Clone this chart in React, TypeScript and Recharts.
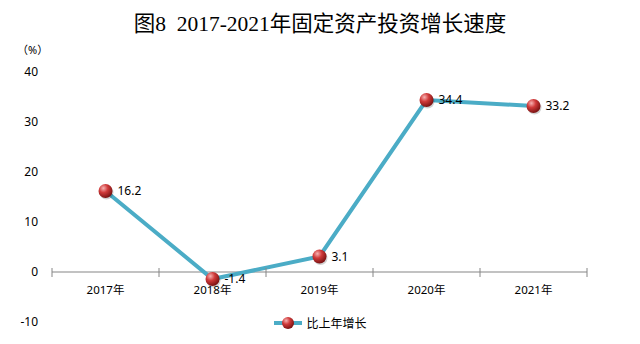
import React from "react";
import {
  LabelList,
  Legend,
  Line,
  LineChart,
  ReferenceLine,
  XAxis,
  YAxis,
} from "recharts";

const years = ["2017年", "2018年", "2019年", "2020年", "2021年"];
const growth = [16.2, -1.4, 3.1, 34.4, 33.2];
const yTicks = [-10, 0, 10, 20, 30, 40];
const seriesName = "比上年增长";
const title = "图8  2017-2021年固定资产投资增长速度";

const data = years.map((y, i) => ({ year: y, value: growth[i] }));

const LINE = "#4bacc6";
const AXIS = "#868686";
const FONT = "'Noto Sans', 'Noto Sans CJK SC', sans-serif";

function Ball(props: any) {
  const { cx, cy } = props;
  if (cx == null || cy == null) return null;
  const r = 7;
  return (
    <g>
      <circle cx={cx + 1} cy={cy + 1.5} r={r} fill="rgba(0,0,0,0.18)" />
      <circle cx={cx} cy={cy} r={r} fill="url(#ball)" />
    </g>
  );
}

function YearTick(props: any) {
  const { x, y, payload, index } = props;
  const band = 107;
  // axis sits on the zero line, not at the plot bottom
  const zeroY = y - 50;
  return (
    <g>
      <line x1={x - band / 2} x2={x - band / 2} y1={zeroY - 4} y2={zeroY + 5} stroke={AXIS} />
      {index === years.length - 1 && (
        <line x1={x + band / 2} x2={x + band / 2} y1={zeroY - 4} y2={zeroY + 5} stroke={AXIS} />
      )}
      <text x={x} y={zeroY + 22} textAnchor="middle" fontSize={11.5} fill="#000" fontFamily={FONT}>
        {payload.value}
      </text>
    </g>
  );
}

function LegendBox() {
  return (
    <div style={{ display: "flex", alignItems: "center", justifyContent: "center", fontFamily: FONT, fontSize: 12 }}>
      <svg width={30} height={16}>
        <defs>
          <radialGradient id="ballL" cx="35%" cy="30%" r="70%">
            <stop offset="0%" stopColor="#f6b2b2" />
            <stop offset="45%" stopColor="#d03a3a" />
            <stop offset="100%" stopColor="#7d1414" />
          </radialGradient>
        </defs>
        <line x1={1} x2={29} y1={8} y2={8} stroke={LINE} strokeWidth={4} />
        <circle cx={15} cy={8} r={6} fill="url(#ballL)" />
      </svg>
      <span style={{ marginLeft: 3 }}>{seriesName}</span>
    </div>
  );
}

export default function App() {
  return (
    <div style={{ position: "absolute", left: 0, top: 0, width: 640, height: 344, background: "#fff" }}>
      <div
        style={{
          position: "absolute",
          top: 6,
          left: 0,
          width: 640,
          textAlign: "center",
          fontFamily: "'Liberation Serif', 'Noto Sans CJK SC', serif",
          fontSize: 21.5,
          whiteSpace: "pre",
          color: "#000",
        }}
      >
        {title}
      </div>
      <div style={{ position: "absolute", top: 41, left: 17, fontFamily: FONT, fontSize: 11 }}>（%）</div>
      <LineChart width={640} height={344} data={data} margin={{ top: 72, right: 53, left: 8, bottom: 21 }}>
        <defs>
          <radialGradient id="ball" cx="35%" cy="30%" r="70%">
            <stop offset="0%" stopColor="#f6b2b2" />
            <stop offset="45%" stopColor="#d03a3a" />
            <stop offset="100%" stopColor="#7d1414" />
          </radialGradient>
        </defs>
        <XAxis
          dataKey="year"
          scale="band"
          height={1}
          axisLine={false}
          tickLine={false}
          tickSize={0}
          tickMargin={0}
          tick={<YearTick />}
          interval={0}
        />
        <YAxis
          width={44}
          domain={[-10, 40]}
          ticks={yTicks}
          axisLine={false}
          tickLine={false}
          tickSize={0}
          tickMargin={14}
          tick={{ fill: "#000", fontSize: 12, fontFamily: FONT }}
        />
        <ReferenceLine y={0} stroke={AXIS} strokeWidth={1.2} />
        <Legend
          verticalAlign="middle"
          align="center"
          layout="horizontal"
          wrapperStyle={{ top: 314, left: 0, width: 640 }}
          content={<LegendBox />}
        />
        <Line
          dataKey="value"
          name={seriesName}
          stroke={LINE}
          strokeWidth={4}
          dot={<Ball />}
          activeDot={false}
          isAnimationActive={false}
        >
          <LabelList
            dataKey="value"
            position="right"
            offset={12}
            fill="#000"
            fontSize={12}
            fontFamily={FONT}
          />
        </Line>
      </LineChart>
    </div>
  );
}
